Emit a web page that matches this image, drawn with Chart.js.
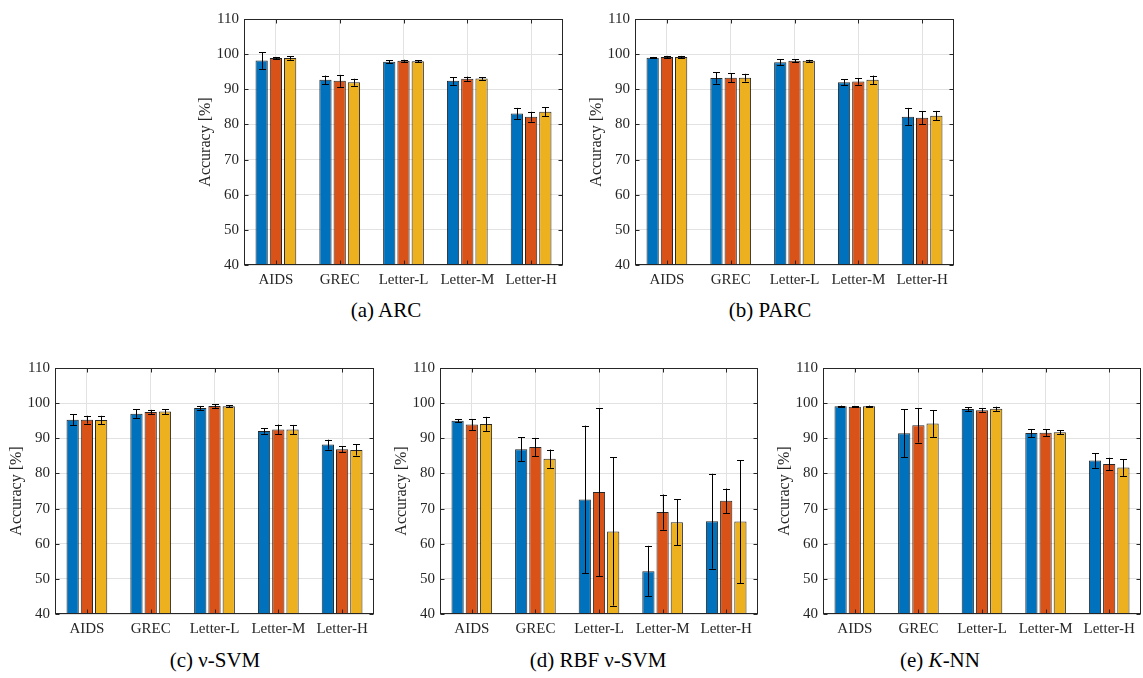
<!DOCTYPE html>
<html>
<head>
<meta charset="utf-8">
<script src="https://cdn.jsdelivr.net/npm/chart.js@4.4.1/dist/chart.umd.min.js"></script>
<style>
  body { margin: 0; background: #fff; width: 1143px; height: 678px; overflow: hidden; position: relative; font-family: "Liberation Serif", "Times New Roman", serif; }
  .panel { position: absolute; }
  .caption { position: absolute; font-size: 21px; color: #000; white-space: nowrap; transform: translate(-50%, -50%); }
</style>
</head>
<body>
<div class="caption" style="left:386px; top:310px;">(a) ARC</div>
<div class="caption" style="left:770px; top:310px;">(b) PARC</div>
<div class="caption" style="left:215px; top:660px;">(c) ν-SVM</div>
<div class="caption" style="left:598px; top:660px;">(d) RBF ν-SVM</div>
<div class="caption" style="left:940px; top:660px;">(e) <i>K</i>-NN</div>
<script>
const categories = ['AIDS', 'GREC', 'Letter-L', 'Letter-M', 'Letter-H'];
const seriesNames = ['Series 1', 'Series 2', 'Series 3'];
const yMin = 40, yMax = 110, yStep = 10;

// mean accuracy per series (blue, orange, yellow) and its +/- error
const arcMeans = [[98.2, 92.7, 97.8, 92.4, 83.1], [98.9, 92.4, 98.1, 93.0, 82.2], [98.9, 92.0, 98.0, 93.1, 83.6]];
const arcErrors = [[2.4, 1.2, 0.4, 1.1, 1.6], [0.3, 1.7, 0.3, 0.6, 1.4], [0.5, 1.0, 0.3, 0.4, 1.3]];

const parcMeans = [[99.0, 93.2, 97.7, 92.0, 82.2], [99.2, 93.3, 98.1, 92.2, 81.9], [99.2, 93.3, 98.1, 92.7, 82.5]];
const parcErrors = [[0.2, 1.6, 0.8, 0.9, 2.5], [0.3, 1.3, 0.4, 0.9, 1.8], [0.3, 1.1, 0.3, 1.2, 1.35]];

const svmMeans = [[95.3, 97.0, 98.6, 92.1, 88.2], [95.3, 97.5, 99.2, 92.5, 86.9], [95.2, 97.6, 99.1, 92.5, 86.7]];
const svmErrors = [[1.6, 1.2, 0.6, 0.8, 1.4], [1.1, 0.6, 0.5, 1.4, 0.9], [1.2, 0.7, 0.3, 1.3, 1.6]];

const rbfMeans = [[95.0, 86.9, 72.6, 52.2, 66.4], [93.9, 87.5, 74.7, 69.0, 72.2], [94.1, 84.2, 63.5, 66.1, 66.3]];
const rbfErrors = [[0.5, 3.4, 21.0, 7.2, 13.5], [1.6, 2.6, 23.9, 5.0, 3.5], [2.0, 2.6, 21.1, 6.5, 17.5]];

const knnMeans = [[99.1, 91.4, 98.3, 91.5, 83.7], [99.0, 93.7, 98.0, 91.6, 82.7], [99.1, 94.2, 98.4, 91.7, 81.7]];
const knnErrors = [[0.2, 6.85, 0.6, 1.15, 2.1], [0.2, 4.9, 0.5, 1.0, 1.75], [0.2, 3.8, 0.6, 0.6, 2.4]];

const colors = ['#0072BD', '#D95319', '#EDB120'];
const axisColor = '#262626';

// plot-area boxes on the page
const panels = [
    { means: arcMeans, errors: arcErrors, left: 244, top: 13, width: 319, height: 252 },
    { means: parcMeans, errors: parcErrors, left: 635, top: 13, width: 319, height: 252 },
    { means: svmMeans, errors: svmErrors, left: 55, top: 362, width: 319, height: 252 },
    { means: rbfMeans, errors: rbfErrors, left: 440, top: 362, width: 318, height: 252 },
    { means: knnMeans, errors: knnErrors, left: 823, top: 362, width: 318, height: 252 }
];

const Y_AXIS_W = 60, X_AXIS_H = 32, PAD_TOP = 8, PAD_RIGHT = 2;

const errorBarPlugin = {
    id: 'errorBars',
    afterDatasetsDraw(chart) {
        const ctx = chart.ctx;
        const y = chart.scales.y;
        ctx.save();
        ctx.strokeStyle = '#000';
        ctx.lineWidth = 1;
        chart.data.datasets.forEach((ds, i) => {
            const meta = chart.getDatasetMeta(i);
            meta.data.forEach((bar, j) => {
                const v = ds.data[j], e = ds.errors[j];
                const x = Math.round(bar.x) + 0.5;
                const yt = y.getPixelForValue(v + e);
                const yb = y.getPixelForValue(v - e);
                ctx.beginPath();
                ctx.moveTo(x, yt); ctx.lineTo(x, yb);
                ctx.moveTo(x - 3.5, Math.round(yt) + 0.5); ctx.lineTo(x + 3.5, Math.round(yt) + 0.5);
                ctx.moveTo(x - 3.5, Math.round(yb) + 0.5); ctx.lineTo(x + 3.5, Math.round(yb) + 0.5);
                ctx.stroke();
            });
        });
        ctx.restore();
    }
};

const boxPlugin = {
    id: 'axesBox',
    afterDraw(chart) {
        const ctx = chart.ctx;
        const a = chart.chartArea;
        const l = Math.round(a.left) + 0.5, r = Math.round(a.right) - 0.5;
        const t = Math.round(a.top) + 0.5, b = Math.round(a.bottom) - 0.5;
        ctx.save();
        ctx.strokeStyle = axisColor;
        ctx.lineWidth = 1;
        ctx.strokeRect(l, t, r - l, b - t);
        ctx.beginPath();
        chart.scales.y.ticks.forEach(tk => {
            const py = Math.round(chart.scales.y.getPixelForValue(tk.value)) + 0.5;
            ctx.moveTo(l, py); ctx.lineTo(l + 4, py);
            ctx.moveTo(r, py); ctx.lineTo(r - 4, py);
        });
        categories.forEach((c, i) => {
            const px = Math.round(chart.scales.x.getPixelForValue(i)) + 0.5;
            ctx.moveTo(px, b); ctx.lineTo(px, b - 4);
            ctx.moveTo(px, t); ctx.lineTo(px, t + 4);
        });
        ctx.stroke();
        ctx.restore();
    }
};

panels.forEach(p => {
    const div = document.createElement('div');
    div.className = 'panel';
    const cw = p.width + Y_AXIS_W + PAD_RIGHT;
    const ch = p.height + PAD_TOP + X_AXIS_H;
    div.style.left = (p.left - Y_AXIS_W) + 'px';
    div.style.top = (p.top - PAD_TOP) + 'px';
    div.style.width = cw + 'px';
    div.style.height = ch + 'px';
    const canvas = document.createElement('canvas');
    canvas.width = cw;
    canvas.height = ch;
    div.appendChild(canvas);
    document.body.appendChild(div);

    new Chart(canvas.getContext('2d'), {
        type: 'bar',
        data: {
            labels: categories,
            datasets: p.means.map((vals, i) => ({
                label: seriesNames[i],
                data: vals,
                errors: p.errors[i],
                backgroundColor: colors[i],
                borderColor: 'rgba(0,0,0,0.85)',
                borderWidth: 1,
                categoryPercentage: 0.67,
                barPercentage: 0.86
            }))
        },
        options: {
            responsive: false,
            animation: false,
            layout: { padding: { left: 0, top: PAD_TOP, right: PAD_RIGHT, bottom: 0 } },
            plugins: { legend: { display: false }, tooltip: { enabled: false } },
            scales: {
                x: {
                    grid: { offset: false, color: '#e2e2e2', drawTicks: false },
                    border: { display: false },
                    ticks: { color: axisColor, padding: 6, maxRotation: 0, autoSkip: false,
                             font: { family: '"Liberation Serif"', size: 15 } },
                    afterFit(scale) { scale.height = X_AXIS_H; }
                },
                y: {
                    min: yMin, max: yMax,
                    grid: { color: '#e2e2e2', drawTicks: false },
                    border: { display: false },
                    ticks: { stepSize: yStep, color: axisColor, padding: 5,
                             font: { family: '"Liberation Serif"', size: 15 } },
                    title: { display: true, text: 'Accuracy [%]', color: axisColor,
                             padding: { top: 12, bottom: 0 },
                             font: { family: '"Liberation Serif"', size: 16 } },
                    afterFit(scale) { scale.width = Y_AXIS_W; }
                }
            }
        },
        plugins: [errorBarPlugin, boxPlugin]
    });
});
</script>
</body>
</html>
